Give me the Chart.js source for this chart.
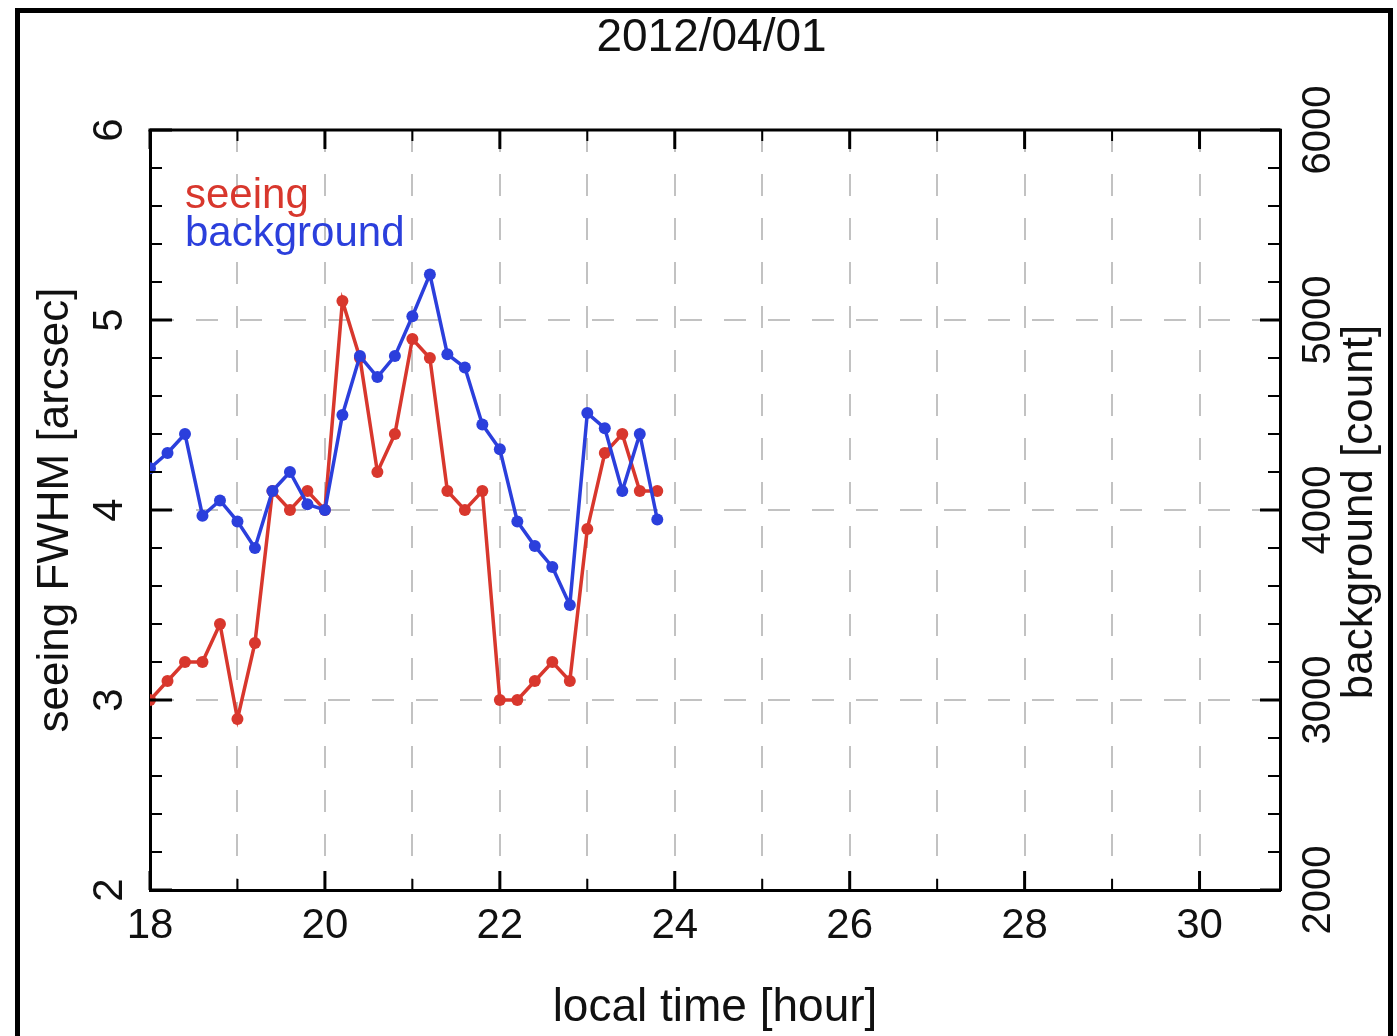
<!DOCTYPE html>
<html><head><meta charset="utf-8">
<script src="https://cdn.jsdelivr.net/npm/chart.js@4"></script>
<style>
html,body{margin:0;padding:0;background:#fff;overflow:hidden}
#wrap{position:relative;width:1397px;height:1036px;background:#fff}
#frame{position:absolute;left:15px;top:8px;width:1378px;height:1200px;border:5px solid #000;box-sizing:border-box;pointer-events:none}
canvas{position:absolute;left:0;top:0}
</style></head><body>
<div id="wrap"><canvas id="c" width="1397" height="1036" style="width:1397px;height:1036px"></canvas><div id="frame"></div></div>
<script>
// ---- data ----
const chartTitle = '2012/04/01';
const times = [18.0,18.2,18.4,18.6,18.8,19.0,19.2,19.4,19.6,19.8,20.0,20.2,20.4,20.6,20.8,21.0,21.2,21.4,21.6,21.8,22.0,22.2,22.4,22.6,22.8,23.0,23.2,23.4,23.6,23.8];
const seeing = [3.0,3.1,3.2,3.2,3.4,2.9,3.3,4.1,4.0,4.1,4.0,5.1,4.8,4.2,4.4,4.9,4.8,4.1,4.0,4.1,3.0,3.0,3.1,3.2,3.1,3.9,4.3,4.4,4.1,4.1];
const background = [4220,4300,4400,3970,4050,3940,3800,4100,4200,4030,4000,4500,4810,4700,4810,5020,5240,4820,4750,4450,4320,3940,3810,3700,3500,4510,4430,4100,4400,3950];
const xLabelTicks = [18,20,22,24,26,28,30];
const xMinorTicks = [19,21,23,25,27,29];
const yMajorTicks = [2,3,4,5,6];
const y2MajorTicks = [2000,3000,4000,5000,6000];
const seriesNames = ['seeing','background'];
const seriesColors = ['#d8372d','#2b3fdc'];
const axisTitles = {x:'local time [hour]', y:'seeing FWHM [arcsec]', y2:'background [count]'};

const FONT = '"Liberation Sans", Arial, Helvetica, sans-serif';
Chart.defaults.font.family = FONT;
Chart.defaults.color = '#111';

const minorList = (majors, sub) => {
  const out = [];
  for (let i = 0; i < majors.length - 1; i++) {
    const a = majors[i], b = majors[i+1];
    for (let k = 1; k < sub; k++) out.push(a + (b - a) * k / sub);
  }
  return out;
};

const decorPlugin = {
  id: 'decor',
  afterDraw(chart) {
    const {ctx, chartArea: ca, scales} = chart;
    ctx.save();
    ctx.strokeStyle = '#000';
    ctx.lineCap = 'butt';
    ctx.lineWidth = 3;
    ctx.beginPath(); ctx.moveTo(ca.left - 1.5, ca.top); ctx.lineTo(ca.right + 1.5, ca.top); ctx.stroke();
    const seg = (x1,y1,x2,y2,w) => { ctx.lineWidth = w; ctx.beginPath(); ctx.moveTo(x1,y1); ctx.lineTo(x2,y2); ctx.stroke(); };
    xLabelTicks.forEach(v => { const p = scales.x.getPixelForValue(v);
      seg(p, ca.top, p, ca.top + 19, 3); seg(p, ca.bottom, p, ca.bottom - 19, 3); });
    xMinorTicks.forEach(v => { const p = scales.x.getPixelForValue(v);
      seg(p, ca.top, p, ca.top + 11, 2); seg(p, ca.bottom, p, ca.bottom - 11, 2); });
    yMajorTicks.forEach(v => { const p = scales.y.getPixelForValue(v); seg(ca.left, p, ca.left + 22, p, 3); });
    minorList(yMajorTicks, 5).forEach(v => { const p = scales.y.getPixelForValue(v); seg(ca.left, p, ca.left + 12, p, 2); });
    y2MajorTicks.forEach(v => { const p = scales.y2.getPixelForValue(v); seg(ca.right, p, ca.right - 20, p, 3); });
    minorList(y2MajorTicks, 5).forEach(v => { const p = scales.y2.getPixelForValue(v); seg(ca.right, p, ca.right - 12, p, 2); });
    ctx.font = '42px ' + FONT;
    ctx.textAlign = 'left'; ctx.textBaseline = 'alphabetic';
    chart.data.datasets.forEach((ds, i) => {
      ctx.fillStyle = ds.borderColor;
      ctx.fillText(ds.label, ca.left + 35, ca.top + 78 + i * 38);
    });
    const r = scales.y2;
    ctx.fillStyle = '#111';
    ctx.font = '44px ' + FONT;
    ctx.translate(1360, (r.top + r.bottom) / 2 + 2);
    ctx.rotate(-Math.PI / 2);
    ctx.textAlign = 'center'; ctx.textBaseline = 'middle';
    ctx.fillText(axisTitles.y2, 0, 0);
    ctx.restore();
  }
};

new Chart(document.getElementById('c'), {
  type: 'line',
  data: {
    datasets: [
      { label: seriesNames[0], data: times.map((t,i)=>({x:t, y:seeing[i]})), yAxisID:'y',
        borderColor: seriesColors[0], backgroundColor: seriesColors[0], pointBackgroundColor: seriesColors[0],
        borderWidth: 3.5, pointRadius: 6, pointBorderWidth: 0, tension: 0, order: 2 },
      { label: seriesNames[1], data: times.map((t,i)=>({x:t, y:background[i]})), yAxisID:'y2',
        borderColor: seriesColors[1], backgroundColor: seriesColors[1], pointBackgroundColor: seriesColors[1],
        borderWidth: 3.5, pointRadius: 6, pointBorderWidth: 0, tension: 0, order: 1 }
    ]
  },
  options: {
    responsive: false, animation: false, devicePixelRatio: 1,
    layout: { padding: { left: 26, right: 0, top: 0, bottom: 0 } },
    plugins: {
      legend: { display: false }, tooltip: { enabled: false },
      title: { display: true, text: chartTitle, font: { size: 46, weight: 'normal' }, color: '#111',
               padding: { top: 11, bottom: 63.8 } }
    },
    scales: {
      x: { type: 'linear', position: 'bottom', min: 18, max: 30.92,
        ticks: { stepSize: 1, autoSkip: false, includeBounds: false, maxRotation: 0, minRotation: 0, padding: 11,
                 font: { size: 42 }, color: '#111',
                 callback: v => xLabelTicks.includes(v) ? String(v) : '' },
        grid: { color: '#c2c2c2', lineWidth: 2, drawTicks: false },
        border: { display: true, color: '#000', width: 3, dash: [22, 22] },
        title: { display: true, text: axisTitles.x, font: { size: 46 }, color: '#111', padding: { top: 0, bottom: 0 } },
        afterFit: s => { s.height = 146; } },
      y: { type: 'linear', position: 'left', min: 2, max: 6,
        ticks: { stepSize: 1, minRotation: 90, maxRotation: 90, crossAlign: 'center', padding: 28,
                 font: { size: 42 }, color: '#111' },
        grid: { color: '#c2c2c2', lineWidth: 2, drawTicks: false },
        border: { display: true, color: '#000', width: 3, dash: [22, 22] },
        title: { display: true, text: axisTitles.y, font: { size: 44 }, color: '#111', padding: { top: 3, bottom: 0 } },
        afterFit: s => { s.width = 124; } },
      y2: { type: 'linear', position: 'right', min: 2000, max: 6000,
        ticks: { stepSize: 1000, minRotation: 90, maxRotation: 90, crossAlign: 'center', padding: -6,
                 font: { size: 40 }, color: '#111', callback: v => String(v) },
        grid: { display: false, drawTicks: false },
        border: { display: true, color: '#000', width: 3 },
        afterFit: s => { s.width = 117; } }
    }
  },
  plugins: [decorPlugin]
});
</script>
</body></html>
